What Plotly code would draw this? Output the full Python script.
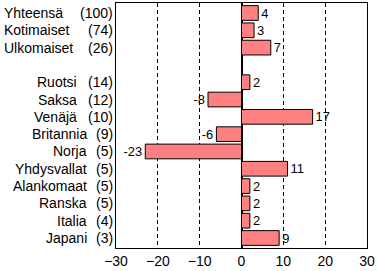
import plotly.graph_objects as go

names = ["Yhteensä", "Kotimaiset", "Ulkomaiset", "", "Ruotsi", "Saksa", "Venäjä",
         "Britannia", "Norja", "Yhdysvallat", "Alankomaat", "Ranska", "Italia", "Japani"]
counts = ["(100)", "(74)", "(26)", "", "(14)", "(12)", "(10)", "(9)", "(5)", "(5)",
          "(5)", "(5)", "(4)", "(3)"]
values = [4, 3, 7, None, 2, -8, 17, -6, -23, 11, 2, 2, 2, 9]
cats = [n if n else " " for n in names]

font = dict(family="Liberation Sans, Arial, sans-serif", size=14, color="black")

fig = go.Figure()
fig.add_trace(go.Bar(
    x=values, y=cats, orientation="h",
    marker=dict(color="#FF8080", line=dict(color="black", width=1)),
    width=0.85,
    text=[("" if v is None else str(v)) for v in values],
    textposition="outside", textfont=font, cliponaxis=False,
    hoverinfo="skip",
))

W, H = 377, 271
ml, mr, mt, mb = 116, 8, 2, 21
pw = W - ml - mr

annotations = []
for i, (n, c) in enumerate(zip(names, counts)):
    if not n:
        continue
    annotations.append(dict(x=0, xref="paper", y=cats[i], yref="y", text=c,
                            xanchor="right", xshift=-1, showarrow=False, font=font))
    if i < 3:
        annotations.append(dict(x=-(ml - 1) / pw, xref="paper", y=cats[i], yref="y",
                                text=n, xanchor="left", showarrow=False, font=font))
    else:
        shift = -37 if len(c) >= 4 else -27
        annotations.append(dict(x=0, xref="paper", y=cats[i], yref="y", text=n,
                                xanchor="right", xshift=shift, showarrow=False, font=font))

fig.update_layout(
    width=W, height=H, margin=dict(l=ml, r=mr, t=mt, b=mb),
    paper_bgcolor="white", plot_bgcolor="white",
    showlegend=False, font=font, annotations=annotations,
    bargap=0.15,
)
fig.update_xaxes(range=[-30, 30], dtick=10, tick0=-30, showgrid=True,
                 gridcolor="black", griddash="4px,3px", gridwidth=1,
                 zeroline=True, zerolinecolor="black", zerolinewidth=2,
                 showline=True, linecolor="black", linewidth=1, mirror=True,
                 ticks="", tickfont=font, fixedrange=True)
fig.update_yaxes(categoryorder="array", categoryarray=cats[::-1],
                 showticklabels=False, showgrid=False, zeroline=False,
                 showline=True, linecolor="black", linewidth=1, mirror=True,
                 ticks="", fixedrange=True)

fig.write_html("out.html", config={"displayModeBar": False})
